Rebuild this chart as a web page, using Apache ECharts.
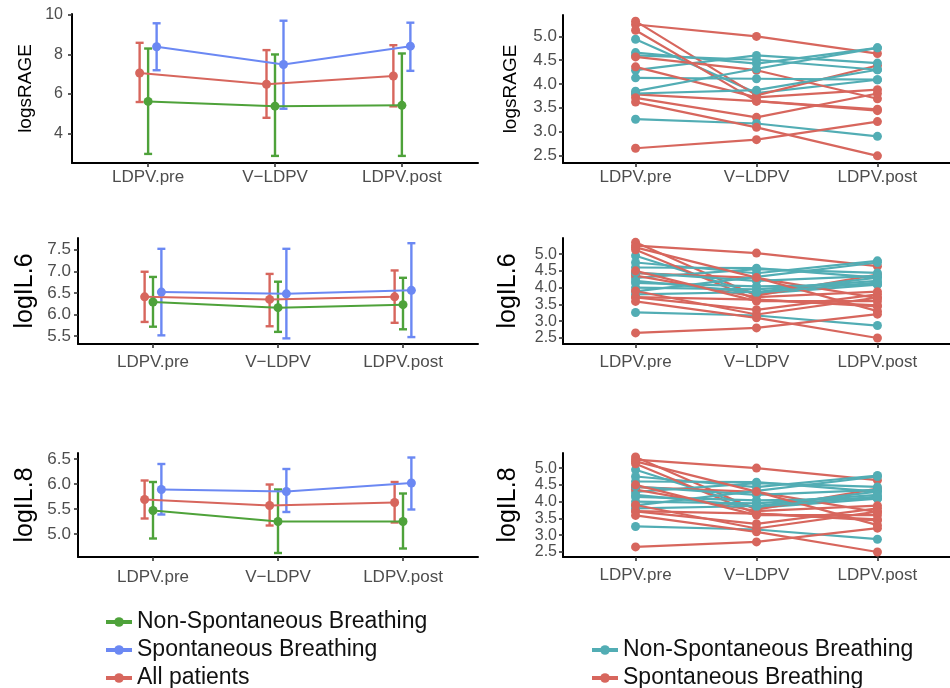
<!DOCTYPE html>
<html>
<head>
<meta charset="utf-8">
<script src="https://cdn.jsdelivr.net/npm/echarts@6/dist/echarts.min.js"></script>
<style>html,body{margin:0;padding:0;background:#fff}#c{width:950px;height:688px}</style>
</head>
<body>
<div id="c"></div>
<script>
// ---------- data ----------
const categories = ['LDPV.pre', 'V\u2212LDPV', 'LDPV.post'];
const groupNames = ['Non-Spontaneous Breathing', 'Spontaneous Breathing', 'All patients'];

// logsRAGE (left, mean and error bar limits)
const sRAGE_allMean = [7.06, 6.49, 6.91];
const sRAGE_allLow  = [5.59, 4.79, 5.37];
const sRAGE_allHigh = [8.59, 8.22, 8.47];
const sRAGE_nonMean = [5.62, 5.38, 5.42];
const sRAGE_nonLow  = [2.96, 2.86, 2.86];
const sRAGE_nonHigh = [8.30, 8.00, 8.05];
const sRAGE_spMean  = [8.39, 7.49, 8.42];
const sRAGE_spLow   = [7.20, 5.25, 7.17];
const sRAGE_spHigh  = [9.58, 9.71, 9.61];

// logIL.6
const IL6_allMean = [6.41, 6.35, 6.41];
const IL6_allLow  = [5.83, 5.73, 5.81];
const IL6_allHigh = [6.99, 6.94, 7.02];
const IL6_nonMean = [6.29, 6.16, 6.23];
const IL6_nonLow  = [5.72, 5.60, 5.66];
const IL6_nonHigh = [6.87, 6.76, 6.85];
const IL6_spMean  = [6.52, 6.48, 6.56];
const IL6_spLow   = [5.52, 5.45, 5.48];
const IL6_spHigh  = [7.52, 7.52, 7.65];

// logIL.8
const IL8_allMean = [5.69, 5.57, 5.63];
const IL8_allLow  = [5.31, 5.17, 5.23];
const IL8_allHigh = [6.07, 5.99, 6.04];
const IL8_nonMean = [5.47, 5.25, 5.25];
const IL8_nonLow  = [4.91, 4.62, 4.71];
const IL8_nonHigh = [6.04, 5.89, 5.81];
const IL8_spMean  = [5.89, 5.85, 6.02];
const IL8_spLow   = [5.39, 5.44, 5.49];
const IL8_spHigh  = [6.40, 6.30, 6.53];

// individual patients (right panels): [pre, V-LDPV, post]
const sRAGE_patSB = [
  [5.25, 5.00, 4.64], [5.32, 3.76, 4.39], [5.13, 3.64, 3.47], [4.57, 4.29, 3.69],
  [4.36, 3.72, 3.88], [3.78, 3.64, 3.44], [3.71, 3.30, 3.80], [3.62, 3.09, 2.49],
  [2.65, 2.83, 3.21]
];
const sRAGE_patNSB = [
  [4.94, 3.81, 4.09], [4.66, 4.43, 4.76], [4.60, 4.51, 4.30], [4.29, 4.60, 4.44],
  [4.13, 4.11, 4.09], [3.85, 4.32, 4.76], [3.80, 3.87, 4.30], [3.26, 3.17, 2.90]
];
const IL6_patSB = [
  [5.25, 5.03, 4.64], [5.35, 3.76, 4.39], [5.13, 3.64, 3.47], [4.43, 4.29, 3.69],
  [4.36, 3.72, 3.88], [3.72, 3.64, 3.44], [3.71, 3.34, 3.80], [3.59, 3.10, 2.50],
  [2.65, 2.80, 3.21], [5.20, 4.30, 3.30], [4.50, 3.60, 3.60], [3.90, 3.20, 3.70]
];
const IL6_patNSB = [
  [4.95, 3.81, 4.09], [4.75, 4.43, 4.80], [4.60, 4.58, 4.30], [4.29, 4.55, 4.44],
  [4.14, 4.04, 4.09], [3.89, 4.32, 4.75], [3.80, 3.87, 4.30], [3.26, 3.17, 2.87],
  [4.45, 4.20, 4.35], [4.00, 3.95, 4.20], [4.20, 3.85, 4.15]
];
const IL8_patSB = [
  [5.25, 5.00, 4.64], [5.33, 3.76, 4.39], [5.13, 3.64, 3.47], [4.43, 4.29, 3.69],
  [4.36, 3.72, 3.88], [3.72, 3.64, 3.44], [3.71, 3.34, 3.80], [3.59, 3.10, 2.50],
  [2.65, 2.80, 3.21], [5.20, 4.30, 3.30], [4.50, 3.60, 3.60], [3.90, 3.20, 3.70]
];
const IL8_patNSB = [
  [4.95, 3.81, 4.09], [4.75, 4.43, 4.78], [4.60, 4.58, 4.30], [4.29, 4.55, 4.44],
  [4.14, 4.04, 4.09], [3.89, 4.32, 4.75], [3.80, 3.87, 4.30], [3.26, 3.17, 2.88],
  [4.45, 4.20, 4.35], [4.00, 3.95, 4.20], [4.20, 3.85, 4.15]
];

// tick values
const ticksSRAGE = [4, 6, 8, 10];
const ticksIL6 = [5.5, 6.0, 6.5, 7.0, 7.5];
const ticksIL8 = [5.0, 5.5, 6.0, 6.5];
const ticksRight = [2.5, 3.0, 3.5, 4.0, 4.5, 5.0];

// ---------- styling ----------
const FONT = '"Liberation Sans", Arial, Helvetica, sans-serif';
const C_GREEN = '#4ea23a', C_BLUE = '#6b88f3', C_RED = '#d7665d';
const C_TEAL = '#52adb4', C_RED2 = '#d7665d';
const DODGE = 0.067;

const grids = [
  {left: 72, top: 14, width: 406, height: 149},
  {left: 78, top: 238, width: 400, height: 106},
  {left: 78, top: 453, width: 400, height: 104},
  {left: 563, top: 15, width: 400, height: 148},
  {left: 563, top: 238, width: 400, height: 106},
  {left: 563, top: 453, width: 400, height: 104}
];
const yCfg = [
  {min: 2.5, max: 10.05, ticks: ticksSRAGE, name: 'logsRAGE', nsize: 19, gap: 37, lsize: 16, lmargin: 9, dec: 0},
  {min: 5.32, max: 7.77, ticks: ticksIL6, name: 'logIL.6', nsize: 25, gap: 40, lsize: 17, lmargin: 7, dec: 1},
  {min: 4.54, max: 6.62, ticks: ticksIL8, name: 'logIL.8', nsize: 25, gap: 40, lsize: 17, lmargin: 7, dec: 1},
  {min: 2.34, max: 5.45, ticks: ticksRight, name: 'logsRAGE', nsize: 19, gap: 43, lsize: 17, lmargin: 6, dec: 1},
  {min: 2.32, max: 5.48, ticks: ticksRight, name: 'logIL.6', nsize: 25, gap: 42, lsize: 16, lmargin: 6, dec: 1},
  {min: 2.35, max: 5.45, ticks: ticksRight, name: 'logIL.8', nsize: 25, gap: 42, lsize: 16, lmargin: 6, dec: 1}
];
const xMargins = [6, 10, 12, 6, 10, 10];

const axisLine = {show: true, lineStyle: {color: '#000', width: 2}};
const axisTick = (vals) => ({show: true, length: 4, lineStyle: {color: '#333', width: 1.6}, customValues: vals});

const xAxes = grids.map((g, i) => ({
  type: 'value', gridIndex: i, min: 0.4, max: 3.6,
  axisLine: axisLine, axisTick: axisTick([1, 2, 3]),
  splitLine: {show: false},
  axisLabel: {
    customValues: [1, 2, 3], margin: xMargins[i], hideOverlap: false,
    formatter: v => categories[Math.round(v) - 1] || '',
    color: '#4d4d4d', fontSize: 17, fontFamily: FONT
  }
}));
const yAxes = yCfg.map((c, i) => ({
  type: 'value', gridIndex: i, min: c.min, max: c.max,
  name: c.name, nameLocation: 'middle', nameGap: c.gap,
  nameTextStyle: {color: '#000', fontSize: c.nsize, fontFamily: FONT},
  axisLine: axisLine, axisTick: axisTick(c.ticks),
  splitLine: {show: false},
  axisLabel: {
    customValues: c.ticks, margin: c.lmargin, hideOverlap: false,
    showMinLabel: true, showMaxLabel: true,
    formatter: v => Number(v).toFixed(c.dec),
    color: '#4d4d4d', fontSize: c.lsize, lineHeight: 12, padding: 0, fontFamily: FONT
  }
}));

function errRender(params, api) {
  const x = api.value(0), lo = api.value(1), hi = api.value(2);
  const pLo = api.coord([x, lo]), pHi = api.coord([x, hi]);
  const hw = 4;
  const style = {stroke: api.visual('color'), lineWidth: 2.4};
  return {type: 'group', children: [
    {type: 'line', shape: {x1: pHi[0], y1: pHi[1], x2: pLo[0], y2: pLo[1]}, style: style},
    {type: 'line', shape: {x1: pHi[0] - hw, y1: pHi[1], x2: pHi[0] + hw, y2: pHi[1]}, style: style},
    {type: 'line', shape: {x1: pLo[0] - hw, y1: pLo[1], x2: pLo[0] + hw, y2: pLo[1]}, style: style}
  ]};
}

const series = [];
function addGroup(idx, name, color, off, mean, low, high) {
  series.push({
    type: 'line', name: name, xAxisIndex: idx, yAxisIndex: idx,
    data: mean.map((v, k) => [k + 1 + off, v]),
    symbol: 'circle', symbolSize: 9, color: color,
    lineStyle: {color: color, width: 2}, itemStyle: {color: color},
    z: 3
  });
  series.push({
    type: 'custom', xAxisIndex: idx, yAxisIndex: idx,
    renderItem: errRender, itemStyle: {color: color},
    encode: {x: 0, y: [1, 2]},
    data: low.map((v, k) => [k + 1 + off, v, high[k]]),
    z: 2
  });
}
const leftPanels = [
  [sRAGE_allMean, sRAGE_allLow, sRAGE_allHigh, sRAGE_nonMean, sRAGE_nonLow, sRAGE_nonHigh, sRAGE_spMean, sRAGE_spLow, sRAGE_spHigh],
  [IL6_allMean, IL6_allLow, IL6_allHigh, IL6_nonMean, IL6_nonLow, IL6_nonHigh, IL6_spMean, IL6_spLow, IL6_spHigh],
  [IL8_allMean, IL8_allLow, IL8_allHigh, IL8_nonMean, IL8_nonLow, IL8_nonHigh, IL8_spMean, IL8_spLow, IL8_spHigh]
];
leftPanels.forEach((p, i) => {
  addGroup(i, groupNames[0], C_GREEN, 0, p[3], p[4], p[5]);
  addGroup(i, groupNames[1], C_BLUE, DODGE, p[6], p[7], p[8]);
  addGroup(i, groupNames[2], C_RED, -DODGE, p[0], p[1], p[2]);
});

const rightNames = ['Non-Spontaneous Breathing ', 'Spontaneous Breathing '];
const rightPanels = [[sRAGE_patNSB, sRAGE_patSB], [IL6_patNSB, IL6_patSB], [IL8_patNSB, IL8_patSB]];
rightPanels.forEach((p, i) => {
  const idx = i + 3;
  const n = Math.max(p[0].length, p[1].length);
  for (let k = 0; k < n; k++) {
    [[p[0][k], rightNames[0], C_TEAL], [p[1][k], rightNames[1], C_RED2]].forEach(([vals, nm, col]) => {
      if (!vals) return;
      series.push({
        type: 'line', name: nm, xAxisIndex: idx, yAxisIndex: idx,
        data: vals.map((v, j) => [j + 1, v]),
        symbol: 'circle', symbolSize: 9, color: col,
        lineStyle: {color: col, width: 2.2}, itemStyle: {color: col}
      });
    });
  }
});

const legendText = {color: '#111', fontSize: 23, fontFamily: FONT, lineHeight: 24};
const option = {
  animation: false,
  backgroundColor: '#fff',
  grid: grids,
  xAxis: xAxes,
  yAxis: yAxes,
  legend: [
    {data: groupNames, orient: 'vertical', left: 104, top: 610, itemGap: 4, padding: 0,
     width: 400, height: 85,
     itemWidth: 26, itemHeight: 12, textStyle: legendText, lineStyle: {width: 4}},
    {data: rightNames, orient: 'vertical', left: 590, top: 638, itemGap: 4, padding: 0,
     width: 360, height: 55,
     itemWidth: 26, itemHeight: 12, textStyle: legendText, lineStyle: {width: 4}}
  ],
  series: series
};
const chart = echarts.init(document.getElementById('c'));
chart.setOption(option);
</script>
</body>
</html>
